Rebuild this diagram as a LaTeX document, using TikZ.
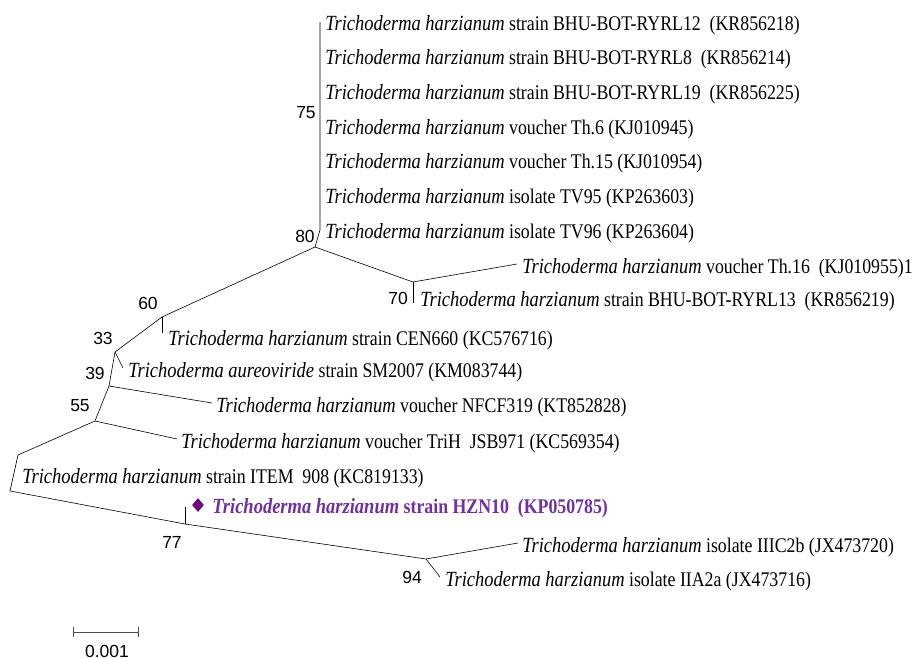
\documentclass[tikz,border=0pt]{standalone}
\usepackage{fontspec}
\setmainfont{Liberation Serif}
\newfontfamily\arialf{Liberation Sans}
\usetikzlibrary{shapes.geometric}
\definecolor{hzn}{RGB}{112,48,160}
\definecolor{hzndia}{RGB}{110,10,125}
\newcommand\Tr[1]{{\fontsize{18.5}{20}\selectfont\itshape Trichoderma #1}}
\newcommand\Lt[2]{\scalebox{1}[1.17]{\Tr{#1} #2}}
\begin{document}
\begin{tikzpicture}[x=1pt,y=-1pt,line width=0.6pt,
  leaf/.style={anchor=base west,inner sep=0,font=\fontsize{17.8}{20}\selectfont},
  boot/.style={inner sep=0,font=\arialf\fontsize{17.5}{20}\selectfont},
  mark diamond/.style={diamond,fill=hzndia,minimum width=12pt,minimum height=14pt,inner sep=0}]
\useasboundingbox (0,0) rectangle (914,659);
% internal nodes and tips
\coordinate (t1) at (320,22);
\coordinate (t7) at (320,230);
\coordinate (n80) at (315,247);
\coordinate (n70) at (413,282);
\coordinate (th16) at (517,264);
\coordinate (r13) at (413,303);
\coordinate (n60) at (162,317);
\coordinate (cen) at (162,333);
\coordinate (n33) at (115,352);
\coordinate (aur) at (123,368);
\coordinate (n39) at (109,386);
\coordinate (nfc) at (212,403);
\coordinate (n55) at (95,421);
\coordinate (tri) at (177,439);
\coordinate (nit) at (18,455);
\coordinate (root) at (10,491);
\coordinate (n77) at (185,524);
\coordinate (hz) at (185,507);
\coordinate (n94) at (426,559);
\coordinate (iii) at (518,543);
\coordinate (iia) at (440,577);
% branches
\draw (t1) -- (t7) -- (n80) -- (n70) -- (th16);
\draw (n70) -- (r13);
\draw (n80) -- (n60) -- (n33) -- (n39) -- (n55) -- (nit) -- (root) -- (n77) -- (n94) -- (iii);
\draw (n60) -- (cen);
\draw (n33) -- (aur);
\draw (n39) -- (nfc);
\draw (n55) -- (tri);
\draw (n77) -- (hz);
\draw (n94) -- (iia);
% leaf labels
\node[leaf] (L1) at (325,30) {\Lt{harzianum}{strain BHU-BOT-RYRL12\ \ (KR856218)}};
\node[leaf] (L2) at (325,64.5) {\Lt{harzianum}{strain BHU-BOT-RYRL8\ \ (KR856214)}};
\node[leaf] (L3) at (325,99.5) {\Lt{harzianum}{strain BHU-BOT-RYRL19\ \ (KR856225)}};
\node[leaf] (L4) at (325,134.5) {\Lt{harzianum}{voucher Th.6 (KJ010945)}};
\node[leaf] (L5) at (325,168.5) {\Lt{harzianum}{voucher Th.15 (KJ010954)}};
\node[leaf] (L6) at (325,203.5) {\Lt{harzianum}{isolate TV95 (KP263603)}};
\node[leaf] (L7) at (325,238.5) {\Lt{harzianum}{isolate TV96 (KP263604)}};
\node[leaf] (L8) at (522,273.5) {\Lt{harzianum}{voucher Th.16\ \ (KJ010955)1}};
\node[leaf] (L9) at (420,306.5) {\Lt{harzianum}{strain BHU-BOT-RYRL13\ \ (KR856219)}};
\node[leaf] (L10) at (168,345.5) {\Lt{harzianum}{strain CEN660 (KC576716)}};
\node[leaf] (L11) at (128,377.5) {\Lt{aureoviride}{strain SM2007 (KM083744)}};
\node[leaf] (L12) at (216,412.5) {\Lt{harzianum}{voucher NFCF319 (KT852828)}};
\node[leaf] (L13) at (181,448.5) {\Lt{harzianum}{voucher TriH\ \ JSB971 (KC569354)}};
\node[leaf] (L14) at (22,483.5) {\Lt{harzianum}{strain ITEM\ \ 908 (KC819133)}};
\node[mark diamond] (dia) at (198,505) {};
\node[leaf,text=hzn,font=\fontsize{17.8}{20}\selectfont\bfseries] (L15) at (212,513.5) {\scalebox{1}[1.17]{{\fontsize{18.5}{20}\selectfont\bfseries\itshape Trichoderma harzianum} strain HZN10\ \ (KP050785)}};
\node[leaf] (L16) at (522,552) {\Lt{harzianum}{isolate IIIC2b (JX473720)}};
\node[leaf] (L17) at (445,586.5) {\Lt{harzianum}{isolate IIA2a (JX473716)}};
% bootstrap values
\node[boot] (b75) at (306,113) {75};
\node[boot] (b80) at (305,236) {80};
\node[boot] (b70) at (398,298) {70};
\node[boot] (b60) at (148,303) {60};
\node[boot] (b33) at (103,338) {33};
\node[boot] (b39) at (95,373) {39};
\node[boot] (b55) at (80,406) {55};
\node[boot] (b77) at (172,542) {77};
\node[boot] (b94) at (412,577) {94};
% scale bar
\coordinate (s1) at (73,632);
\coordinate (s2) at (138,632);
\draw[black!70] (s1) -- (s2);
\draw[black!70] ([yshift=-5pt]s1) -- ([yshift=5pt]s1);
\draw[black!70] ([yshift=-5pt]s2) -- ([yshift=5pt]s2);
\node[boot] (sc) at (107,651) {0.001};
\end{tikzpicture}
\end{document}
